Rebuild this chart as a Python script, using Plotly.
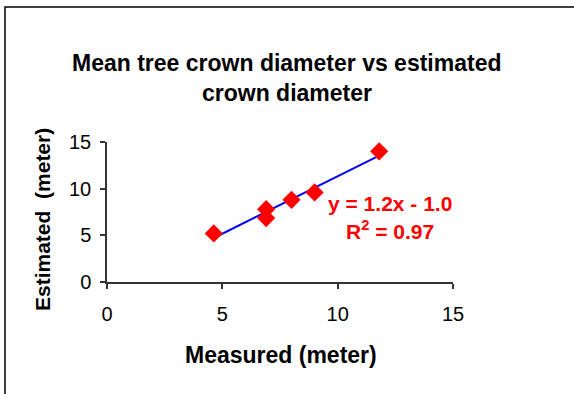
import numpy as np
import plotly.graph_objects as go

measured = [4.63, 6.9, 6.9, 8.0, 9.0, 11.8]
estimated = [5.2, 7.8, 6.85, 8.8, 9.6, 14.0]
x_ticks = [0, 5, 10, 15]
y_ticks = [0, 5, 10, 15]

title_lines = ["Mean tree crown diameter vs estimated", "crown diameter"]
x_title = "Measured (meter)"
y_title = "Estimated&nbsp; (meter)"

slope, intercept = np.polyfit(measured, estimated, 1)
pred = np.polyval([slope, intercept], measured)
ss_res = np.sum((np.array(estimated) - pred) ** 2)
ss_tot = np.sum((np.array(estimated) - np.mean(estimated)) ** 2)
r2 = 1 - ss_res / ss_tot
xline = [min(measured), max(measured)]
yline = list(np.polyval([slope, intercept], xline))

FONT = "Liberation Sans, Arial, sans-serif"
L, R, T, B = 107, 121, 142, 112
W, H = 574, 394
PW, PH = W - L - R, H - T - B


def px(xp):
    return (xp - L) / PW


def py(yp):
    return (H - B - yp) / PH


fig = go.Figure()
fig.add_trace(go.Scatter(x=xline, y=yline, mode="lines",
                         line=dict(color="#0000FF", width=2), showlegend=False))
fig.add_trace(go.Scatter(x=measured, y=estimated, mode="markers",
                         marker=dict(symbol="diamond", color="#FF0000", size=14,
                                     line=dict(width=0)), showlegend=False))

sign = "-" if intercept < 0 else "+"


def note(text, xp, yp, size, color="black", angle=0):
    fig.add_annotation(xref="paper", yref="paper", x=px(xp), y=py(yp),
                       xanchor="center", yanchor="middle", showarrow=False,
                       text=text, textangle=angle,
                       font=dict(family=FONT, size=size, color=color))


note(f"<b>y = {slope:.1f}x {sign} {abs(intercept):.1f}</b>", 390, 203, 21, "#FF0000")
note(f"<b>R<sup>2</sup> = {r2:.2f}</b>", 390, 230, 21, "#FF0000")
note(f"<b>{title_lines[0]}</b>", 287, 63, 23)
note(f"<b>{title_lines[1]}</b>", 287, 93, 23)
note(f"<b>{x_title}</b>", 281, 355, 23)
note(f"<b>{y_title}</b>", 42, 220, 21, angle=-90)

# chart border
fig.add_shape(type="rect", xref="paper", yref="paper",
              x0=px(5), x1=px(600), y0=py(420), y1=py(7),
              line=dict(color="black", width=1.5), layer="below")

fig.update_layout(
    width=W, height=H,
    margin=dict(l=L, r=R, t=T, b=B),
    paper_bgcolor="white", plot_bgcolor="white",
    font=dict(family=FONT, size=20, color="black"),
)
AX = "#333333"
fig.update_xaxes(range=[0, 15], tickvals=x_ticks, showgrid=False, zeroline=False,
                 showline=True, linecolor=AX, linewidth=1.5,
                 ticks="outside", ticklen=5, tickcolor=AX, tickwidth=1.5,
                 ticklabelstandoff=8,
                 tickfont=dict(family=FONT, size=20), fixedrange=True)
fig.update_yaxes(range=[0, 15], tickvals=y_ticks, showgrid=False, zeroline=False,
                 showline=True, linecolor=AX, linewidth=1.5,
                 ticks="outside", ticklen=5, tickcolor=AX, tickwidth=1.5,
                 ticklabelstandoff=5,
                 tickfont=dict(family=FONT, size=20), fixedrange=True)

fig.write_html("out.html")
